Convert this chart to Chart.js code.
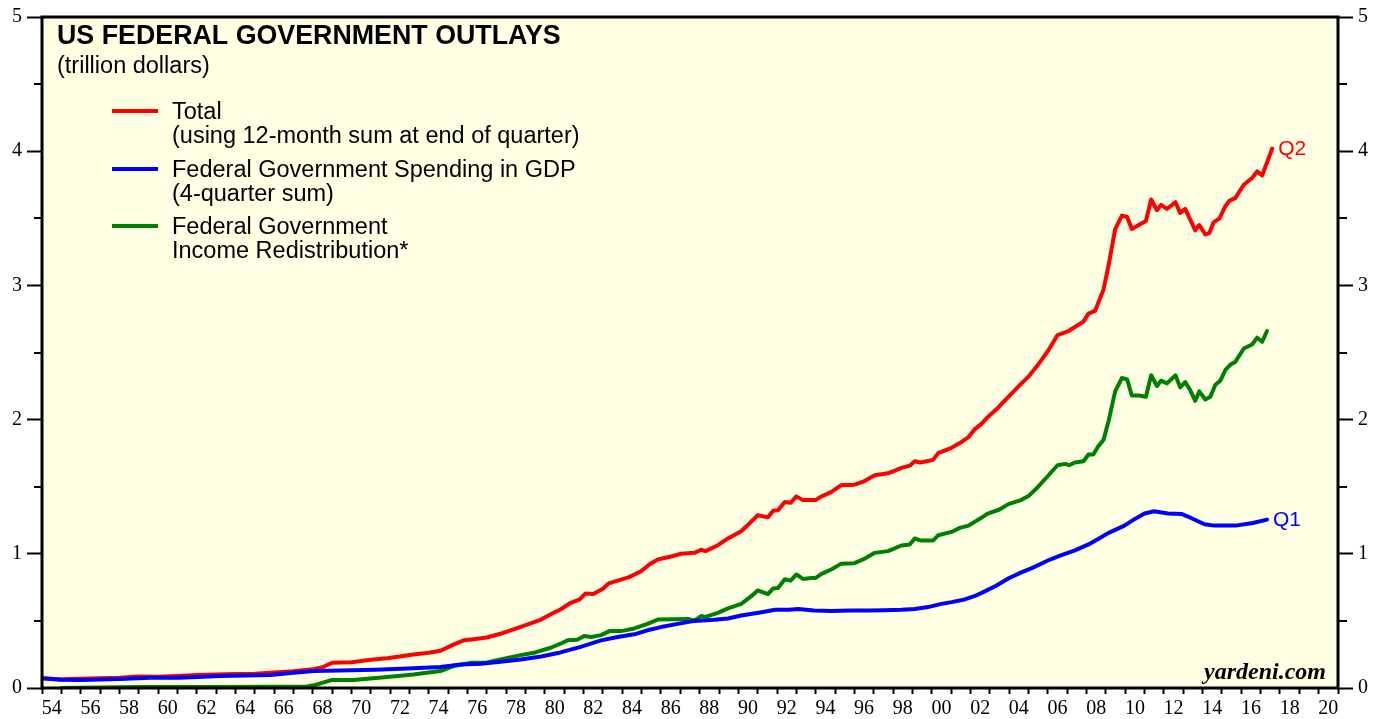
<!DOCTYPE html>
<html>
<head>
<meta charset="utf-8">
<script src="https://cdn.jsdelivr.net/npm/chart.js@4.4.1/dist/chart.umd.min.js"></script>
<style>
  html, body { margin: 0; padding: 0; background: #fff; }
  canvas { display: block; }
</style>
</head>
<body>
<canvas id="chart" width="1380" height="719"></canvas>
<script>
// Total outlays (12-month sum at end of quarter), trillion $
const totalYears = [1954, 1955, 1956, 1957, 1958, 1959, 1960, 1961, 1962, 1963, 1964, 1965, 1966, 1967, 1968, 1968.5, 1969, 1970, 1971, 1971.85, 1973.2, 1974, 1974.6, 1975.3, 1975.8, 1976.2, 1977, 1977.7, 1978.75, 1979.8, 1980.3, 1980.8, 1981.34, 1981.8, 1982.1, 1982.5, 1983, 1983.3, 1983.76, 1984.36, 1984.97, 1985.4, 1985.83, 1986.52, 1987.04, 1987.73, 1988.08, 1988.3, 1988.94, 1989.46, 1990.15, 1990.67, 1991, 1991.53, 1991.8, 1992.05, 1992.4, 1992.7, 1993, 1993.34, 1993.77, 1994, 1994.3, 1994.8, 1995.3, 1996, 1996.5, 1997.05, 1997.74, 1998.43, 1998.86, 1999.12, 1999.4, 2000.07, 2000.33, 2001.02, 2001.45, 2001.9, 2002.2, 2002.58, 2002.9, 2003.4, 2003.96, 2004.5, 2005, 2005.5, 2006, 2006.5, 2007.07, 2007.4, 2007.84, 2008.1, 2008.44, 2008.88, 2009.14, 2009.48, 2009.83, 2010.1, 2010.34, 2010.7, 2011.07, 2011.34, 2011.64, 2011.85, 2012.16, 2012.6, 2012.84, 2013.1, 2013.36, 2013.62, 2013.83, 2014.14, 2014.35, 2014.57, 2014.87, 2015.18, 2015.38, 2015.69, 2016.13, 2016.56, 2016.82, 2017.08, 2017.6];
const totalValues = [0.072, 0.066, 0.068, 0.072, 0.076, 0.085, 0.084, 0.090, 0.097, 0.101, 0.105, 0.106, 0.115, 0.125, 0.139, 0.155, 0.188, 0.192, 0.210, 0.222, 0.250, 0.262, 0.278, 0.325, 0.355, 0.362, 0.376, 0.404, 0.456, 0.51, 0.55, 0.585, 0.635, 0.66, 0.705, 0.70, 0.74, 0.78, 0.80, 0.826, 0.87, 0.92, 0.957, 0.98, 1.0, 1.007, 1.03, 1.02, 1.064, 1.114, 1.168, 1.24, 1.287, 1.272, 1.32, 1.325, 1.386, 1.38, 1.428, 1.40, 1.40, 1.40, 1.428, 1.46, 1.51, 1.515, 1.54, 1.585, 1.60, 1.64, 1.657, 1.69, 1.68, 1.70, 1.75, 1.79, 1.825, 1.87, 1.925, 1.97, 2.02, 2.085, 2.17, 2.25, 2.32, 2.41, 2.51, 2.63, 2.66, 2.69, 2.73, 2.79, 2.81, 2.97, 3.15, 3.42, 3.52, 3.51, 3.42, 3.45, 3.48, 3.64, 3.56, 3.60, 3.57, 3.62, 3.54, 3.57, 3.49, 3.41, 3.45, 3.38, 3.39, 3.47, 3.50, 3.59, 3.63, 3.65, 3.75, 3.80, 3.85, 3.82, 4.02];

// Federal government spending in GDP (4-quarter sum)
const gdpYears = [1954, 1954.9, 1956, 1958, 1959.6, 1961.1, 1963.2, 1965.8, 1967, 1968.05, 1969.4, 1971.2, 1972.9, 1974.6, 1975.65, 1976.7, 1977.7, 1978.75, 1979.8, 1980.8, 1981.8, 1982.9, 1983.76, 1984.62, 1985.3, 1986, 1986.86, 1987.73, 1988.76, 1989.46, 1990.15, 1991.2, 1991.9, 1992.6, 1993.1, 1993.9, 1994.8, 1995.8, 1996.7, 1997.57, 1998.43, 1999.12, 1999.8, 2000.5, 2001.02, 2001.7, 2002.2, 2002.58, 2003.3, 2004, 2004.6, 2005.2, 2006, 2006.6, 2007.4, 2008.1, 2008.6, 2009.14, 2009.96, 2010.5, 2011, 2011.5, 2012.2, 2012.9, 2013.4, 2014.1, 2014.6, 2015.7, 2016.6, 2017.33];
const gdpValues = [0.072, 0.062, 0.060, 0.067, 0.077, 0.077, 0.089, 0.097, 0.114, 0.126, 0.131, 0.136, 0.146, 0.156, 0.176, 0.181, 0.196, 0.213, 0.235, 0.265, 0.305, 0.355, 0.38, 0.40, 0.43, 0.454, 0.478, 0.50, 0.508, 0.518, 0.54, 0.565, 0.583, 0.583, 0.588, 0.578, 0.574, 0.578, 0.578, 0.58, 0.583, 0.588, 0.603, 0.627, 0.64, 0.66, 0.684, 0.709, 0.76, 0.82, 0.86, 0.895, 0.95, 0.985, 1.025, 1.07, 1.11, 1.156, 1.21, 1.26, 1.30, 1.317, 1.30, 1.297, 1.267, 1.22, 1.21, 1.21, 1.23, 1.255];

// Federal government income redistribution
const redistYears = [1955, 1959, 1963, 1967.7, 1968.05, 1969, 1970.1, 1971.85, 1973.2, 1974.6, 1975.3, 1976.2, 1977, 1977.7, 1978.75, 1979.5, 1980.3, 1980.8, 1981.17, 1981.67, 1982.03, 1982.4, 1982.9, 1983.33, 1983.93, 1984.62, 1985.3, 1985.83, 1986.7, 1987.4, 1987.73, 1988.08, 1988.3, 1988.94, 1989.46, 1990.15, 1990.67, 1991, 1991.53, 1991.8, 1992.05, 1992.4, 1992.7, 1993, 1993.34, 1993.77, 1994, 1994.3, 1994.8, 1995.3, 1996, 1996.5, 1997.05, 1997.74, 1998.43, 1998.86, 1999.12, 1999.4, 2000.07, 2000.33, 2001.02, 2001.45, 2001.9, 2002.58, 2002.9, 2003.5, 2003.96, 2004.6, 2005, 2005.5, 2006, 2006.5, 2006.9, 2007.1, 2007.4, 2007.84, 2008.1, 2008.35, 2008.6, 2008.88, 2009.14, 2009.48, 2009.83, 2010.1, 2010.34, 2010.7, 2011.07, 2011.34, 2011.64, 2011.85, 2012.16, 2012.6, 2012.84, 2013.1, 2013.36, 2013.62, 2013.83, 2014.14, 2014.4, 2014.66, 2014.92, 2015.18, 2015.44, 2015.69, 2016.13, 2016.56, 2016.82, 2017.08, 2017.33];
const redistValues = [0.0, 0.008, 0.008, 0.012, 0.02, 0.06, 0.06, 0.082, 0.10, 0.126, 0.164, 0.188, 0.19, 0.213, 0.245, 0.265, 0.30, 0.33, 0.355, 0.36, 0.387, 0.38, 0.394, 0.424, 0.424, 0.444, 0.478, 0.51, 0.512, 0.515, 0.504, 0.536, 0.53, 0.56, 0.593, 0.627, 0.684, 0.727, 0.70, 0.742, 0.745, 0.81, 0.80, 0.846, 0.813, 0.82, 0.82, 0.85, 0.883, 0.925, 0.93, 0.962, 1.007, 1.02, 1.062, 1.07, 1.114, 1.10, 1.10, 1.138, 1.163, 1.193, 1.21, 1.27, 1.30, 1.33, 1.37, 1.40, 1.43, 1.50, 1.58, 1.66, 1.67, 1.66, 1.68, 1.69, 1.74, 1.74, 1.80, 1.85, 1.99, 2.21, 2.31, 2.30, 2.18, 2.18, 2.17, 2.33, 2.25, 2.29, 2.27, 2.33, 2.24, 2.28, 2.22, 2.14, 2.21, 2.15, 2.17, 2.26, 2.29, 2.37, 2.41, 2.43, 2.53, 2.56, 2.61, 2.58, 2.66];

const xMin = 1954, xMax = 2021;
const yTicks = [0, 1, 2, 3, 4, 5];
const yMinorTicks = [0.5, 1.5, 2.5, 3.5, 4.5];

const SANS = "'Liberation Sans', Arial, sans-serif";
const SERIF = "'Liberation Serif', 'Times New Roman', serif";

function pts(xs, ys) {
    return xs.map((x, i) => ({ x: x, y: ys[i] }));
}

const legendItems = [
    { color: '#ff0000', lines: ['Total', '(using 12-month sum at end of quarter)'], y: 111 },
    { color: '#0000ff', lines: ['Federal Government Spending in GDP', '(4-quarter sum)'], y: 169 },
    { color: '#008000', lines: ['Federal Government', 'Income Redistribution*'], y: 226 }
];

// background, frame, minor ticks, titles and legend
const decorPlugin = {
    id: 'decor',
    beforeDraw(chart) {
        const { ctx, chartArea: a } = chart;
        ctx.save();
        ctx.fillStyle = '#ffffe3';
        ctx.fillRect(a.left, a.top, a.right - a.left, a.bottom - a.top);
        ctx.restore();
    },
    afterDraw(chart) {
        const { ctx, chartArea: a } = chart;
        const ys = chart.scales.y;
        ctx.save();
        ctx.strokeStyle = '#000';
        ctx.lineWidth = 3;
        ctx.strokeRect(a.left, a.top, a.right - a.left, a.bottom - a.top);

        // half-unit minor ticks on both sides
        ctx.lineWidth = 2;
        yMinorTicks.forEach(v => {
            const py = Math.round(ys.getPixelForValue(v));
            ctx.beginPath();
            ctx.moveTo(a.left - 8, py); ctx.lineTo(a.left, py);
            ctx.moveTo(a.right, py); ctx.lineTo(a.right + 9, py);
            ctx.stroke();
        });

        // titles
        ctx.fillStyle = '#000';
        ctx.textBaseline = 'alphabetic';
        ctx.textAlign = 'left';
        ctx.font = 'bold 26.8px ' + SANS;
        ctx.fillText('US FEDERAL GOVERNMENT OUTLAYS', 57, 44);
        ctx.font = '23.5px ' + SANS;
        ctx.fillText('(trillion dollars)', 57, 73);

        // legend
        legendItems.forEach(item => {
            ctx.strokeStyle = item.color;
            ctx.lineWidth = 4;
            ctx.beginPath();
            ctx.moveTo(112, item.y); ctx.lineTo(158, item.y);
            ctx.stroke();
            ctx.fillStyle = '#000';
            ctx.font = '23.5px ' + SANS;
            item.lines.forEach((t, i) => ctx.fillText(t, 172, item.y + 8 + i * 23.5));
        });

        // end labels
        const xs = chart.scales.x;
        ctx.font = '21px ' + SANS;
        ctx.textBaseline = 'middle';
        ctx.fillStyle = '#ff0000';
        ctx.fillText('Q2', xs.getPixelForValue(totalYears[totalYears.length - 1]) + 6,
            ys.getPixelForValue(totalValues[totalValues.length - 1]) + 1);
        ctx.fillStyle = '#0000ff';
        ctx.fillText('Q1', xs.getPixelForValue(gdpYears[gdpYears.length - 1]) + 6,
            ys.getPixelForValue(gdpValues[gdpValues.length - 1]) + 1);

        // source
        ctx.fillStyle = '#000';
        ctx.textAlign = 'right';
        ctx.textBaseline = 'alphabetic';
        ctx.font = 'italic bold 24px ' + SERIF;
        ctx.fillText('yardeni.com', a.right - 12, a.bottom - 9);
        ctx.restore();
    }
};

const yAxisBase = {
    type: 'linear',
    min: 0,
    max: 5,
    afterBuildTicks: s => { s.ticks = yTicks.map(v => ({ value: v })); },
    ticks: { color: '#000', padding: 5, font: { family: SERIF, size: 20 } },
    grid: { drawOnChartArea: false, drawTicks: true, tickLength: 15, tickWidth: 2, color: '#000' },
    border: { display: false }
};

new Chart(document.getElementById('chart'), {
    type: 'line',
    data: {
        datasets: [
            { label: 'Total', data: pts(totalYears, totalValues), borderColor: '#ff0000', order: 2 },
            { label: 'Federal Government Spending in GDP', data: pts(gdpYears, gdpValues), borderColor: '#0000ff', order: 0 },
            { label: 'Federal Government Income Redistribution', data: pts(redistYears, redistValues), borderColor: '#008000', order: 1 }
        ]
    },
    options: {
        responsive: false,
        animation: false,
        parsing: false,
        layout: { padding: { top: 15, left: 0, right: 0, bottom: 0 } },
        elements: {
            line: { borderWidth: 4, tension: 0, borderJoinStyle: 'round', borderCapStyle: 'round' },
            point: { radius: 0 }
        },
        plugins: { legend: { display: false }, tooltip: { enabled: false } },
        scales: {
            x: {
                type: 'linear',
                min: xMin,
                max: xMax,
                afterBuildTicks: s => {
                    const t = [];
                    for (let yr = xMin; yr <= xMax; yr++) t.push({ value: yr });
                    s.ticks = t;
                },
                afterFit: s => { s.height = 31; },
                ticks: {
                    autoSkip: false,
                    maxRotation: 0,
                    minRotation: 0,
                    labelOffset: 9.7,
                    padding: 3,
                    color: '#000',
                    font: { family: SERIF, size: 20 },
                    callback: v => (v % 2 === 0 && v < xMax) ? String(v).slice(-2) : ''
                },
                grid: { drawOnChartArea: false, drawTicks: true, tickLength: 6, tickWidth: 2, color: '#000' },
                border: { display: false }
            },
            y: Object.assign({}, yAxisBase, { position: 'left', afterFit: s => { s.width = 42; } }),
            y2: Object.assign({}, yAxisBase, { position: 'right', afterFit: s => { s.width = 42; } })
        }
    },
    plugins: [decorPlugin]
});
</script>
</body>
</html>
